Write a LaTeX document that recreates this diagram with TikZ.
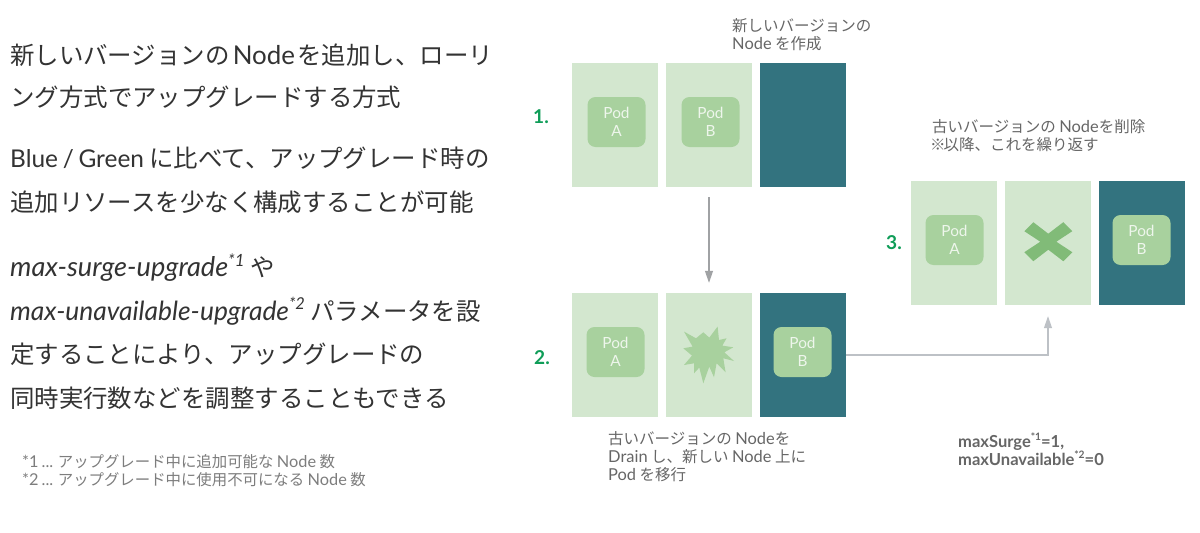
\documentclass[tikz,border=0pt]{standalone}
\usepackage{fontspec}
\setmainfont{Noto Sans CJK JP}[Scale=1]
\newfontfamily\latf{Lato}[Scale=1.06,WordSpace=0.75]
\newfontfamily\latb{Lato}[Scale=1.0,WordSpace=0.75]
\newfontfamily\latwide{Lato}[Scale=1.11]
\newfontfamily\latmid{Lato}[Scale=1.08]
\newcommand{\la}[1]{{\latf #1}}
\newcommand{\lai}[1]{{\latwide\itshape #1}}
\newcommand{\laj}[1]{{\latmid\itshape #1}}
\newcommand{\sups}[1]{\raisebox{0.42em}{\scalebox{0.62}{#1}}}
\usetikzlibrary{arrows.meta}
\definecolor{nodelight}{HTML}{D3E7CF}
\definecolor{nodedark}{HTML}{33737F}
\definecolor{podfill}{HTML}{A8D19E}
\definecolor{crossc}{HTML}{81BB78}
\definecolor{arrowc}{HTML}{A0A2A4}
\definecolor{arrowl}{HTML}{BDC1C6}
\definecolor{capc}{HTML}{666666}
\definecolor{mainc}{HTML}{333333}
\definecolor{stepc}{HTML}{0F9D58}
\definecolor{podtxt}{HTML}{EEF6EC}
\tikzset{
  x=1pt,y=-1pt,
  nodebox/.style={rectangle,inner sep=0pt,minimum width=86pt,minimum height=124pt},
  oldnode/.style={nodebox,fill=nodelight},
  newnode/.style={nodebox,fill=nodedark},
  podbox/.style={rectangle,rounded corners=8pt,fill=podfill,inner sep=0pt,minimum width=58pt,minimum height=50pt,text=podtxt,align=center,font=\fontsize{14.5}{18.5}\selectfont\latf},
  maintext/.style={anchor=west,inner sep=0pt,align=left,text=mainc},
  captext/.style={anchor=west,inner sep=0pt,align=left,text=capc,font=\fontsize{15.5}{18}\selectfont},
  steplabel/.style={inner sep=0pt,text=stepc,font=\fontsize{18}{20}\selectfont\latf\bfseries},
  flow/.style={draw=arrowc,line width=1.1pt,-{Triangle[length=12pt,width=8pt]}},
  flowlight/.style={draw=arrowl,line width=1.1pt,-{Triangle[length=12pt,width=8pt]}},
}
\begin{document}
\begin{tikzpicture}
\useasboundingbox (0,0) rectangle (1200,533);
\fill[white] (0,0) rectangle (1200,533);
% left text
\node[maintext,font=\fontsize{24.45}{42.5}\selectfont] (t1) at (10,76) {新しいバージョンの\hspace{3pt}\la{Node}\hspace{2.5pt}を追加し、ローリ\\ング方式でアップグレードする方式};
\node[maintext,font=\fontsize{24.45}{44}\selectfont] (t2) at (10,180) {{\latb Blue / Green} に比べて、アップグレード時の\\追加リソースを少なく構成することが可能};
\node[maintext,font=\fontsize{24.45}{43.7}\selectfont] (t3) at (10,331.5) {\lai{max-surge-upgrade}\sups{\lai{*1}} や\\\laj{max-unavailable-upgrade}\sups{\laj{*2}} パラメータを設\\定することにより、アップグレードの\\同時実行数などを調整することもできる};
\node[captext,text=capc!85,font=\fontsize{15.4}{18}\selectfont] (fn) at (22,471) {\la{*1 ...} アップグレード中に追加可能な \la{Node} 数\\\la{*2 ...} アップグレード中に使用不可になる \la{Node} 数};
% row 1
\node[oldnode] (r1a) at (615,125) {};
\node[oldnode] (r1b) at (709,125) {};
\node[newnode] (r1c) at (803,125) {};
\node[podbox] (p1a) at (616.5,122) {Pod\\A};
\node[podbox] (p1b) at (710.5,122) {Pod\\B};
\node[steplabel] (s1) at (541,117) {1.};
\node[captext] (c1) at (732,35) {新しいバージョンの\\\la{Node} を作成};
% row 2
\node[oldnode] (r2a) at (615,355) {};
\node[oldnode] (r2b) at (709,355) {};
\node[newnode] (r2c) at (803,355) {};
\node[podbox] (p2a) at (615.5,352) {Pod\\A};
\node[podbox] (p2c) at (802.5,352) {Pod\\B};
\node[steplabel] (s2) at (542,358) {2.};
\node[captext] (c2) at (608,456.5) {古いバージョンの \la{Node}を\\\la{Drain} し、新しい \la{Node} 上に\\\la{Pod} を移行};
% burst
\begin{scope}[shift={(708.3,352.3)}]
\fill[podfill] (-24.3,-20.7) -- (-12.3,-14) -- (-5,-20) -- (1,-14.7) -- (9.3,-25.7) -- (10.7,-12.3)
  -- (18.3,-14) -- (14,-6.7) -- (25,-5) -- (16,0) -- (25.7,8.7) -- (15,6) -- (17.3,20) -- (8.3,11)
  -- (5.7,25) -- (1,14.3) -- (-5,31) -- (-9,15.3) -- (-14.3,21) -- (-14.3,11) -- (-24.3,12.7)
  -- (-16.3,3.3) -- (-25,-4) -- (-15.7,-5.7) -- cycle;
\end{scope}
% row 3
\node[oldnode] (r3a) at (954,243) {};
\node[oldnode] (r3b) at (1048,243) {};
\node[newnode] (r3c) at (1142,243) {};
\node[podbox] (p3a) at (954.5,240) {Pod\\A};
\node[podbox] (p3c) at (1141.5,240) {Pod\\B};
\node[steplabel] (s3) at (894,243) {3.};
\node[captext] (c3) at (932,136) {古いバージョンの \la{Node}を削除\\\hspace*{-2pt}※\hspace{-2pt}以降、これを繰り返す};
% cross
\begin{scope}[shift={(1048.3,241.7)}]
\fill[crossc] (0,-8) -- (15,-19.5) -- (24,-10.5) -- (8,0) -- (24,10.5) -- (15,19.5) -- (0,8)
  -- (-15,19.5) -- (-24,10.5) -- (-8,0) -- (-24,-10.5) -- (-15,-19.5) -- cycle;
\end{scope}
\node[captext,font=\fontsize{15.6}{18}\selectfont\latf\bfseries] (ms) at (958,449) {maxSurge\sups{*1}=1,\\maxUnavailable\sups{*2}=0};
% connectors
\draw[flow,shorten <=10pt,shorten >=10pt] (r1b.south) -- (r2b.north);
\draw[flowlight,shorten >=11pt] (r2c.east) -| (r3b.south);
\end{tikzpicture}
\end{document}
